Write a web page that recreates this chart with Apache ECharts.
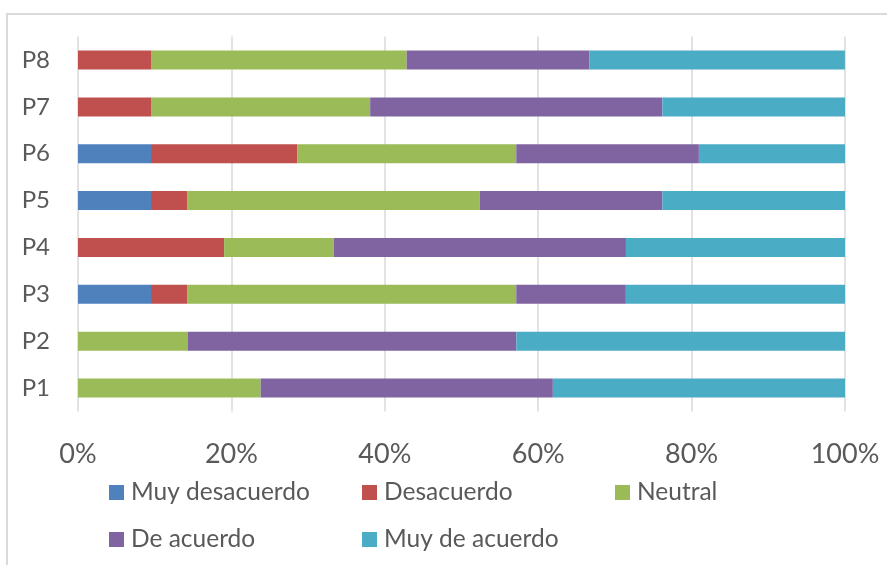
<!DOCTYPE html>
<html>
<head>
<meta charset="utf-8">
<script src="https://cdn.jsdelivr.net/npm/echarts@6/dist/echarts.min.js"></script>
<style>
html,body{margin:0;padding:0;background:#fff;}
#chart{width:887px;height:565px;}
</style>
</head>
<body>
<div id="chart"></div>
<script>
var categories = ['P1','P2','P3','P4','P5','P6','P7','P8'];
var seriesNames = ['Muy desacuerdo','Desacuerdo','Neutral','De acuerdo','Muy de acuerdo'];
var muyDesacuerdo = [0, 0, 9.52, 0, 9.52, 9.52, 0, 0];
var desacuerdo    = [0, 0, 4.76, 19.05, 4.76, 19.05, 9.52, 9.52];
var neutral       = [23.81, 14.29, 42.86, 14.29, 38.1, 28.57, 28.57, 33.33];
var deAcuerdo     = [38.1, 42.86, 14.29, 38.1, 23.81, 23.81, 38.1, 23.81];
var muyDeAcuerdo  = [38.1, 42.86, 28.57, 28.57, 23.81, 19.05, 23.81, 33.33];
var xTicks = ['0%','20%','40%','60%','80%','100%'];
var colors = ['#4F81BD','#C0504D','#9BBB59','#8064A2','#4BACC6'];

var values = [muyDesacuerdo, desacuerdo, neutral, deAcuerdo, muyDeAcuerdo];
var FONT = 'Lato';
var TXT = '#595959';

var legendPos = [
  {left: 109, top: 480},
  {left: 362, top: 480},
  {left: 615, top: 480},
  {left: 109, top: 527},
  {left: 362, top: 527}
];

var chart = echarts.init(document.getElementById('chart'), null, {renderer:'canvas'});
chart.setOption({
  animation: false,
  backgroundColor: '#fff',
  graphic: [{
    type: 'rect',
    shape: {x: 7, y: 14, width: 2000, height: 2000},
    style: {fill: 'none', stroke: '#d9d9d9', lineWidth: 2},
    silent: true
  }],
  legend: legendPos.map(function(p, i){
    return {
      left: p.left, top: p.top, padding: 0,
      orient: 'horizontal',
      data: [seriesNames[i]],
      icon: 'rect', itemWidth: 15, itemHeight: 15, itemGap: 0,
      textStyle: {fontFamily: FONT, fontSize: 24.5, color: TXT, padding: [0,0,0,2], lineHeight: 24},
      selectedMode: false
    };
  }),
  grid: {left: 78, right: 42, top: 36.6, bottom: 153.5, containLabel: false},
  xAxis: {
    type: 'value', min: 0, max: 100, interval: 20,
    axisLine: {show: false}, axisTick: {show: false},
    splitLine: {show: true, lineStyle: {color: '#d9d9d9', width: 1.5}},
    axisLabel: {
      fontFamily: FONT, fontSize: 27, color: TXT, margin: 29,
      formatter: function(v){ return xTicks[Math.round(v/20)]; }
    }
  },
  yAxis: {
    type: 'category', data: categories,
    axisLine: {show: false}, axisTick: {show: false},
    axisLabel: {fontFamily: FONT, fontSize: 24, color: TXT, margin: 28}
  },
  series: seriesNames.map(function(n, i){
    return {
      name: n, type: 'bar', stack: 'total', barWidth: 19,
      itemStyle: {color: colors[i]},
      data: values[i]
    };
  })
});
</script>
</body>
</html>
